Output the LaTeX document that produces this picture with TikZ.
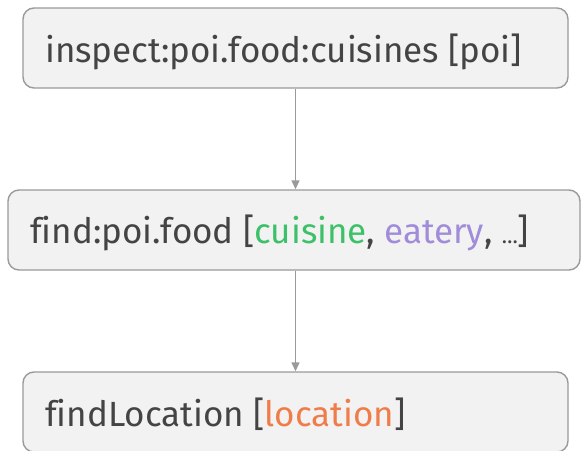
\documentclass[tikz,border=0pt]{standalone}
\usepackage{fontspec}
\setmainfont{Fira Sans}[Ligatures={NoCommon}]
\usetikzlibrary{arrows.meta}
\definecolor{boxfill}{HTML}{F2F2F2}
\definecolor{boxline}{HTML}{9A9A9A}
\definecolor{txt}{HTML}{444444}
\definecolor{cgreen}{HTML}{3CC168}
\definecolor{cpurple}{HTML}{A18CDA}
\definecolor{corange}{HTML}{F07C4A}
\tikzset{
  box/.style={draw=boxline, fill=boxfill, line width=1.4pt, rounded corners=11pt, inner sep=0pt},
  lbl/.style={text=txt, font=\fontsize{35}{42}\selectfont, inner sep=0pt, anchor=base west},
  arr/.style={draw=boxline, line width=1.4pt, -{Triangle[length=9pt,width=8pt]}}
}
\begin{document}
\begin{tikzpicture}[x=1pt,y=-1pt]
\useasboundingbox (0,0) rectangle (581,450);
\node[box, minimum width=545, minimum height=80] (b1) at (295.5,48) {};
\node[box, minimum width=572, minimum height=80] (b2) at (294,230) {};
\node[box, minimum width=545, minimum height=80] (b3) at (295.5,412) {};
\node[lbl] (t1) at (45,62) {inspect:poi.food:cuisines [poi]};
\node[lbl] (t2) at (30,243.5) {find:poi.food [\textcolor{cgreen}{cuisine}, \textcolor{cpurple}{eatery}, \scalebox{0.62}{…}]};
\node[lbl] (t3) at (45,426) {findLocation [\textcolor{corange}{location}]};
\draw[arr] (b1.south) -- (b1.south |- b2.north);
\draw[arr] (b2.south -| b1.south) -- (b1.south |- b3.north);
\end{tikzpicture}
\end{document}
